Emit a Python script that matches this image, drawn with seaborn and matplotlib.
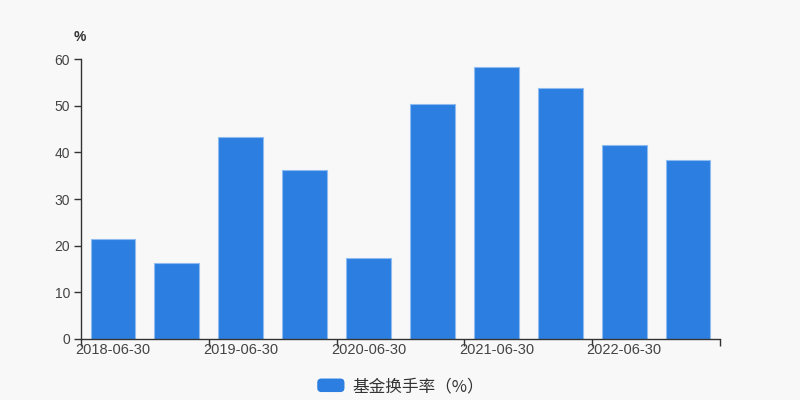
import matplotlib
matplotlib.use("Agg")
import matplotlib.pyplot as plt
import seaborn as sns
import pandas as pd
from matplotlib.patches import FancyBboxPatch
from matplotlib.legend_handler import HandlerPatch

dates = ["2018-06-30", "2018-12-31", "2019-06-30", "2019-12-31", "2020-06-30",
         "2020-12-31", "2021-06-30", "2021-12-31", "2022-06-30", "2022-12-31"]
values = [21.4, 16.3, 43.3, 36.3, 17.4, 50.4, 58.3, 53.8, 41.6, 38.4]
series_name = "基金换手率（%）"
y_ticks = [0, 10, 20, 30, 40, 50, 60]

sns.set_theme(style="white")
plt.rcParams['font.family'] = ['Noto Sans CJK SC', 'DejaVu Sans']

bg = "#f8f8f8"
color = "#2c7fe0"
df = pd.DataFrame({"date": dates, "value": values})
tick_font = ['Liberation Sans', 'DejaVu Sans']

fig = plt.figure(figsize=(8, 4), dpi=100, facecolor=bg)
ax = fig.add_axes([0.10125, 0.1525, 0.79875, 0.7])
ax.set_facecolor(bg)
sns.barplot(data=df, x="date", y="value", order=dates, color=color, width=0.7,
            saturation=1, edgecolor="#8fbcf0", linewidth=0.8, ax=ax)
if ax.get_legend() is not None:
    ax.get_legend().remove()

ax.set_xlim(-0.5, len(dates) - 0.5)
ax.set_ylim(0, 60)
ax.set_yticks(y_ticks)
ax.set_yticklabels([str(t) for t in y_ticks], fontsize=10, color="#444444", family=tick_font)
ax.set_xticks([i - 0.5 for i in range(0, len(dates) + 1, 2)])
ax.set_xticklabels([])
ax.set_xticks(list(range(0, len(dates), 2)), minor=True)
ax.set_xticklabels([dates[i] for i in range(0, len(dates), 2)], minor=True,
                   fontsize=10.5, color="#444444", family=tick_font)
ax.tick_params(axis="x", which="major", length=5, width=1, color="#333333", direction="out", bottom=True)
ax.tick_params(axis="x", which="minor", length=0, pad=3, bottom=True)
ax.tick_params(axis="y", length=5, width=1, color="#333333", direction="out", left=True, pad=3)
ax.set_xlabel("")
ax.set_ylabel("")
for s in ["top", "right"]:
    ax.spines[s].set_visible(False)
for s in ["left", "bottom"]:
    ax.spines[s].set_color("#333333")
    ax.spines[s].set_linewidth(1)

fig.text(0.092, 0.898, "%", fontsize=10, color="#333333", family=tick_font, fontweight="bold")

class RoundHandler(HandlerPatch):
    def create_artists(self, legend, orig_handle, xdescent, ydescent, width, height, fontsize, trans):
        p = FancyBboxPatch((-xdescent + 1, -ydescent + 0.5), width - 2, height - 1,
                           boxstyle="round,pad=0,rounding_size=3", facecolor=color,
                           edgecolor="none", transform=trans)
        return [p]

handle = plt.Rectangle((0, 0), 1, 1, color=color)
fig.legend([handle], [series_name], loc="lower center", bbox_to_anchor=(0.5, -0.025),
           frameon=False, fontsize=12, handlelength=1.8, handleheight=1.0, handletextpad=0.4,
           handler_map={plt.Rectangle: RoundHandler()}, labelcolor="#333333")

fig.savefig("out.png", dpi=100, facecolor=bg)
